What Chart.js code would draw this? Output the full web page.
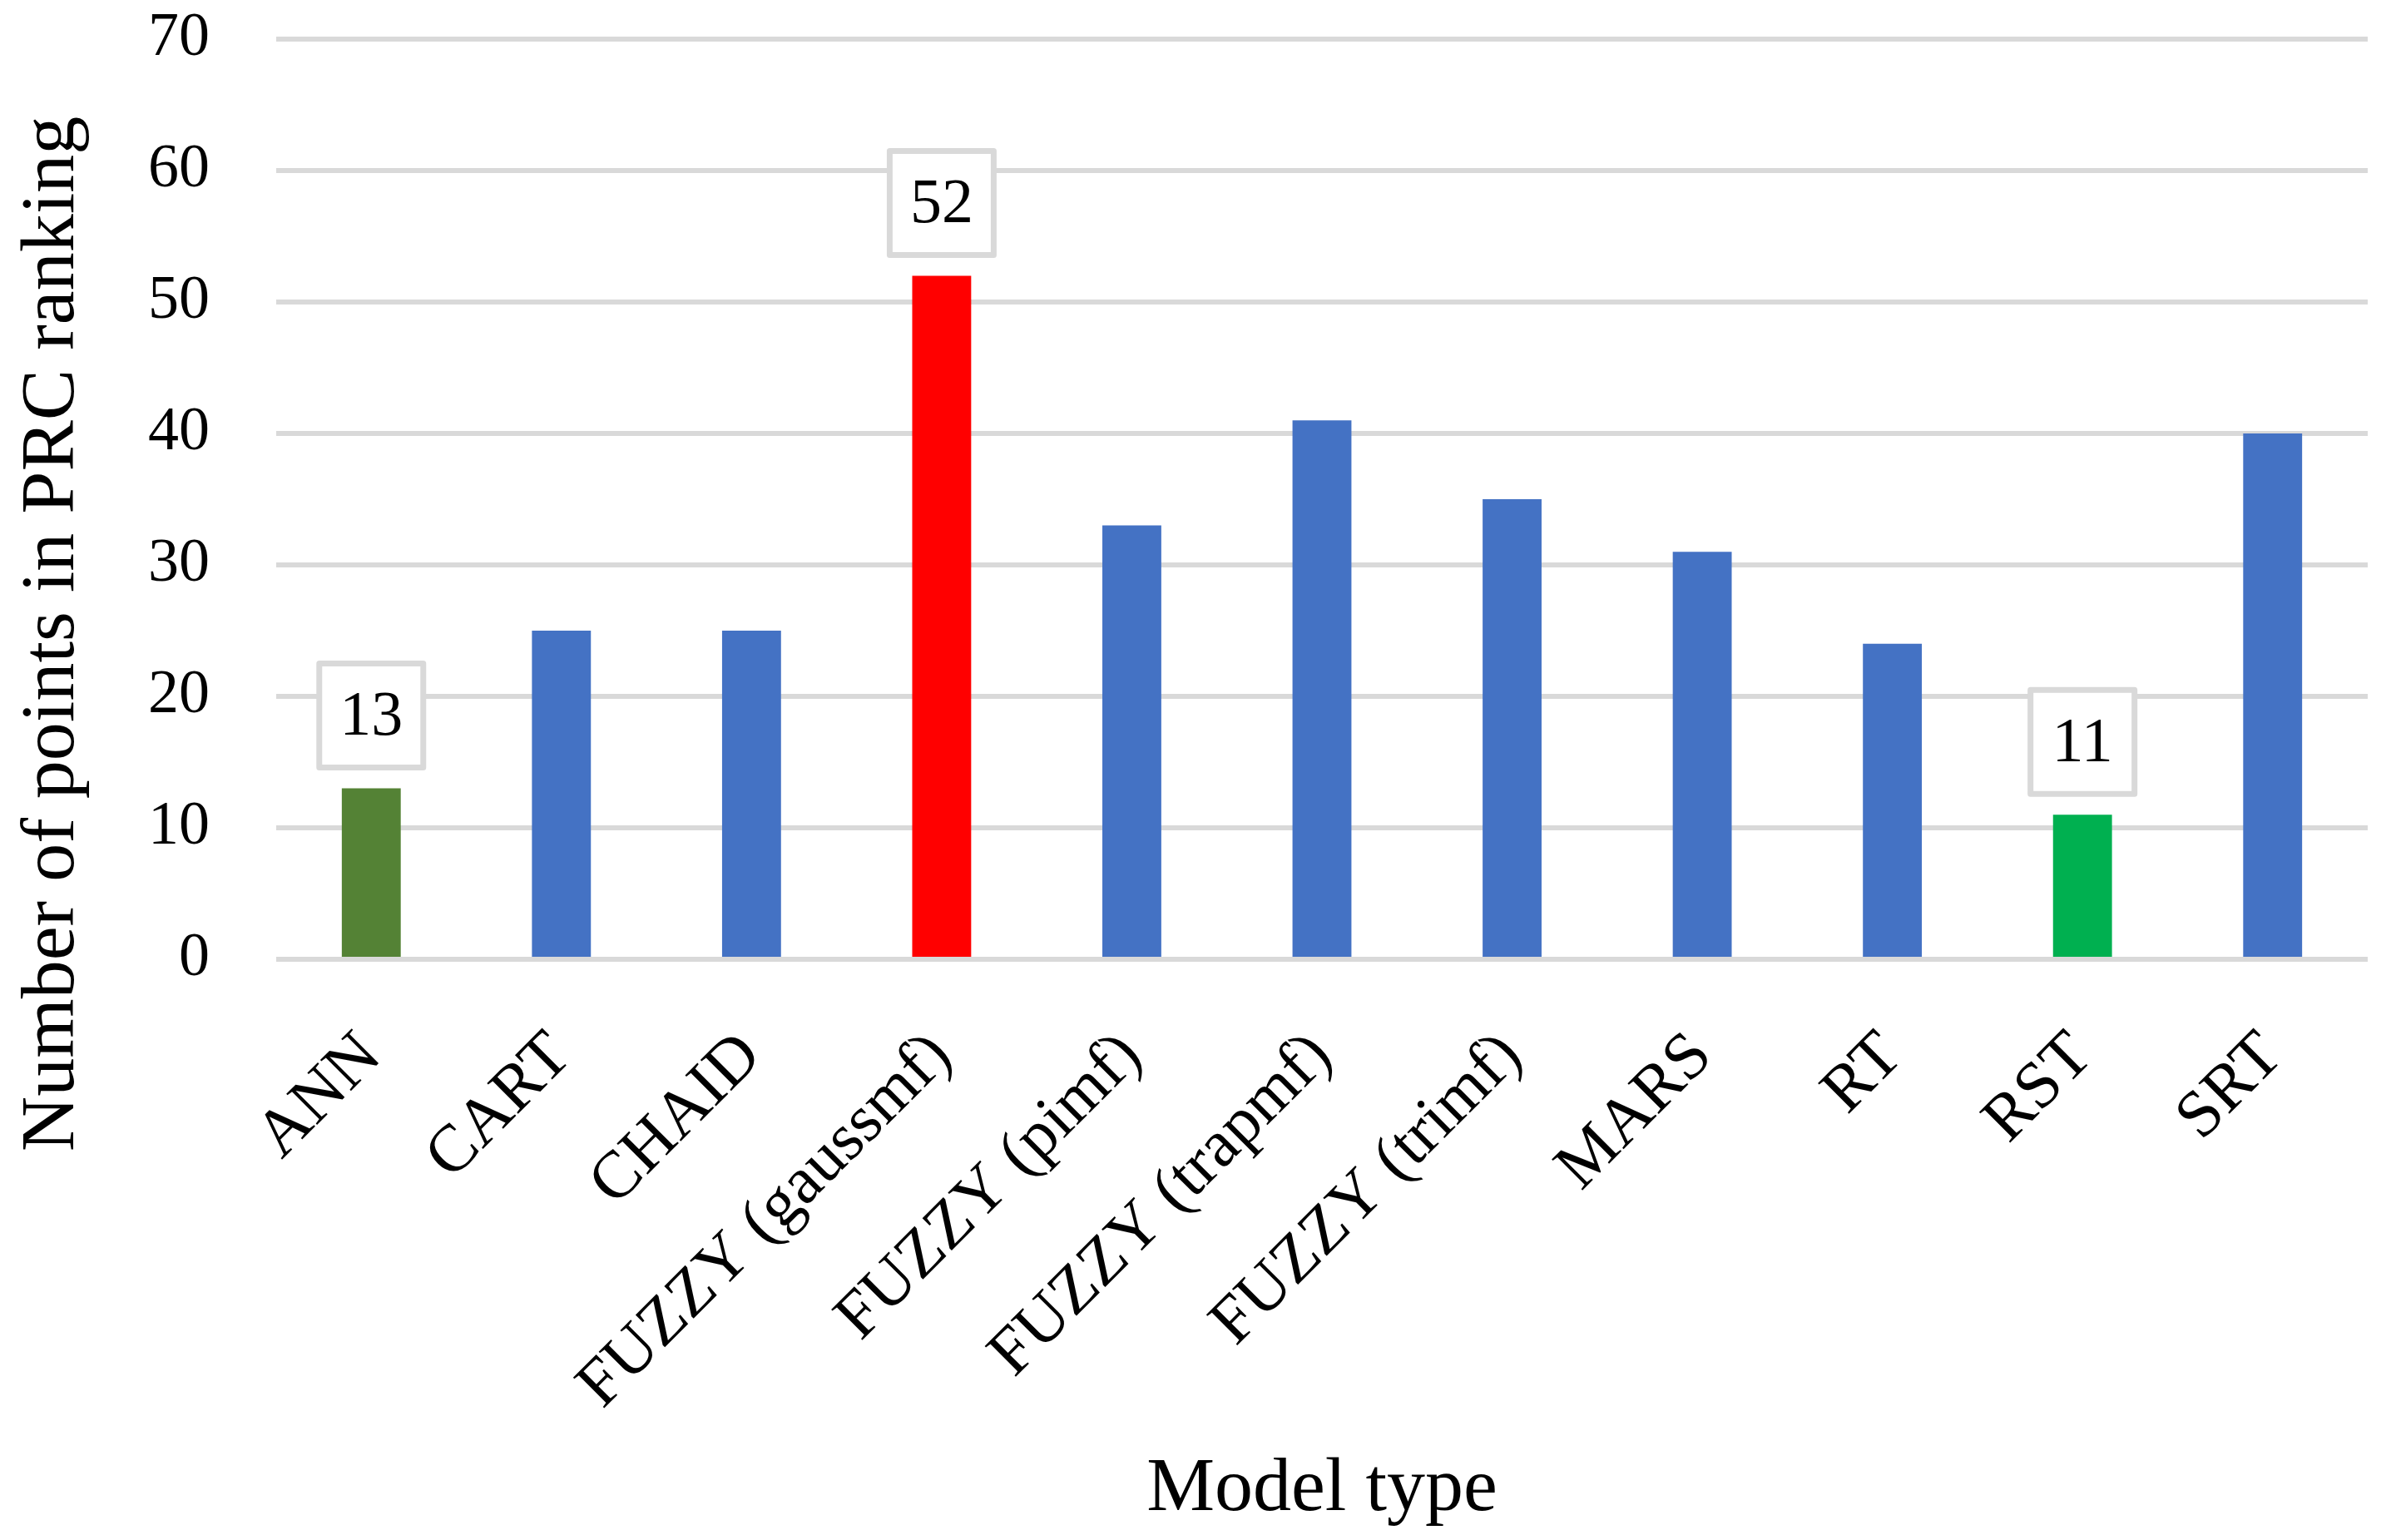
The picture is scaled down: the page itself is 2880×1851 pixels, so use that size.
<!DOCTYPE html>
<html>
<head>
<meta charset="utf-8">
<script src="https://cdn.jsdelivr.net/npm/chart.js@4/dist/chart.umd.min.js"></script>
<style>
  html, body { margin: 0; padding: 0; background: #ffffff; }
  #wrap { width: 2880px; height: 1851px; }
</style>
</head>
<body>
<div id="wrap"><canvas id="c" width="2880" height="1851"></canvas></div>
<script>
const categories = ["ANN", "CART", "CHAID", "FUZZY (gaussmf)", "FUZZY (pimf)", "FUZZY (trapmf)", "FUZZY (trimf)", "MARS", "RT", "RST", "SRT"];
const points = [13, 25, 25, 52, 33, 41, 35, 31, 24, 11, 40];
const barColors = ["#548235", "#4472c4", "#4472c4", "#ff0000", "#4472c4", "#4472c4", "#4472c4", "#4472c4", "#4472c4", "#00b050", "#4472c4"];
const labelledBars = [true, false, false, true, false, false, false, false, false, true, false];
const yTicks = [0, 10, 20, 30, 40, 50, 60, 70];
const yTitle = "Number of points in PRC ranking";
const xTitle = "Model type";

const FONT = "'Liberation Serif', 'Times New Roman', serif";

const boxLabels = {
  id: 'boxLabels',
  afterDatasetsDraw(chart) {
    const ctx = chart.ctx;
    const meta = chart.getDatasetMeta(0);
    ctx.save();
    meta.data.forEach((bar, i) => {
      if (!labelledBars[i]) return;
      const w = 125, h = 125, gap = 25;
      const cx = bar.x;
      const bottom = bar.y - gap;
      const top = bottom - h;
      ctx.fillStyle = '#ffffff';
      ctx.fillRect(cx - w / 2, top, w, h);
      ctx.lineWidth = 7;
      ctx.strokeStyle = '#d9d9d9';
      ctx.lineJoin = 'round';
      ctx.strokeRect(cx - w / 2, top, w, h);
      ctx.fillStyle = '#000000';
      ctx.font = "76px " + FONT;
      ctx.textAlign = 'center';
      ctx.textBaseline = 'middle';
      ctx.fillText(String(points[i]), cx, top + h / 2 + 3);
    });
    ctx.restore();
  }
};

// Y-axis title, drawn offset below the plot-area centre as in the original
const yAxisTitle = {
  id: 'yAxisTitle',
  afterDraw(chart) {
    const ctx = chart.ctx;
    const area = chart.chartArea;
    const cy = (area.top + area.bottom) / 2 + 162;
    ctx.save();
    ctx.translate(64, cy);
    ctx.rotate(-Math.PI / 2);
    ctx.fillStyle = '#000000';
    ctx.font = "92px " + FONT;
    ctx.textAlign = 'center';
    ctx.textBaseline = 'middle';
    ctx.fillText(yTitle, 0, 0);
    ctx.restore();
  }
};

new Chart(document.getElementById('c'), {
  type: 'bar',
  data: {
    labels: categories,
    datasets: [{
      data: points,
      backgroundColor: barColors,
      borderWidth: 0,
      barPercentage: 0.31,
      categoryPercentage: 1.0
    }]
  },
  options: {
    responsive: false,
    animation: false,
    devicePixelRatio: 1,
    layout: { padding: { top: 47, right: 34, bottom: 0, left: 0 } },
    plugins: { legend: { display: false }, tooltip: { enabled: false } },
    scales: {
      x: {
        grid: { display: false },
        border: { display: false },
        ticks: {
          autoSkip: false,
          maxRotation: 45,
          minRotation: 45,
          padding: 62,
          color: '#000000',
          font: { family: FONT, size: 80 }
        },
        title: {
          display: true,
          text: xTitle,
          color: '#000000',
          font: { family: FONT, size: 92 },
          padding: { top: 0, bottom: 5 }
        },
        afterFit(scale) { scale.height = 698; scale.paddingLeft = 0; scale.paddingRight = 0; }
      },
      y: {
        min: 0,
        max: 70,
        afterBuildTicks(scale) { scale.ticks = yTicks.map(v => ({ value: v })); },
        grid: { color: '#d9d9d9', lineWidth: 6, drawTicks: false },
        border: { display: false },
        ticks: {
          padding: 80,
          color: '#000000',
          font: { family: FONT, size: 74 }
        },
        title: { display: false },
        afterFit(scale) { scale.width = 332; scale.paddingTop = 0; scale.paddingBottom = 0; }
      }
    }
  },
  plugins: [boxLabels, yAxisTitle]
});
</script>
</body>
</html>
